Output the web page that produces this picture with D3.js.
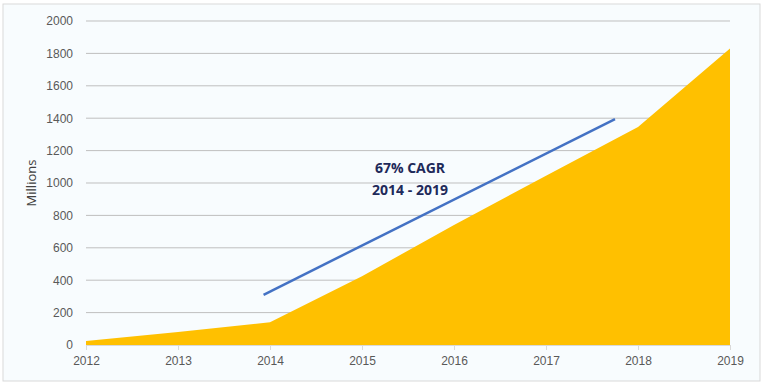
<!DOCTYPE html>
<html>
<head>
<meta charset="utf-8">
<script src="https://cdn.jsdelivr.net/npm/d3@7"></script>
<style>
  body { margin: 0; background: #fff; }
  svg { display: block; font-family: "Open Sans", sans-serif; }
</style>
</head>
<body>
<svg width="765" height="387"></svg>
<script>
// data
var years = [2012, 2013, 2014, 2015, 2016, 2017, 2018, 2019];
var millions = [25, 80, 140, 425, 740, 1045, 1345, 1830];
var yTicks = [0, 200, 400, 600, 800, 1000, 1200, 1400, 1600, 1800, 2000];
// trend line end points (year, value)
var trendYears = [2013.93, 2017.75];
var trendValues = [310, 1395];
var noteLines = ['67% CAGR', '2014 - 2019'];

var svg = d3.select('svg');
var plotLeft = 86, plotRight = 730, plotTop = 21, plotBottom = 345;

// chart frame
svg.append('rect')
    .attr('x', 3).attr('y', 4)
    .attr('width', 757).attr('height', 377)
    .attr('fill', '#f8fcfe')
    .attr('stroke', '#d9d9d9');

var x = d3.scaleLinear().domain([2012, 2019]).range([plotLeft, plotRight]);
var y = d3.scaleLinear().domain([0, 2000]).range([plotBottom, plotTop]);

// gridlines
svg.append('g')
    .selectAll('line')
    .data(yTicks.slice(1))
    .enter().append('line')
    .attr('x1', plotLeft).attr('x2', plotRight)
    .attr('y1', function (d) { return y(d); })
    .attr('y2', function (d) { return y(d); })
    .attr('stroke', '#bfbfbf');

// y axis labels
var yAxis = d3.axisLeft(y).tickValues(yTicks).tickFormat(d3.format('d')).tickSize(0).tickPadding(13);
svg.append('g')
    .attr('transform', 'translate(' + plotLeft + ',0)')
    .call(yAxis)
    .call(function (g) { g.select('.domain').remove(); })
    .selectAll('text')
    .attr('fill', '#595959')
    .style('font-size', '12px');

// area
var area = d3.area()
    .x(function (d, i) { return x(years[i]); })
    .y0(y(0))
    .y1(function (d) { return y(d); });

svg.append('path')
    .datum(millions)
    .attr('d', area)
    .attr('fill', '#ffc000');

// x axis
var xAxis = d3.axisBottom(x).tickValues(years).tickFormat(d3.format('d')).tickSize(5).tickSizeOuter(0).tickPadding(6);
svg.append('g')
    .attr('transform', 'translate(0,' + plotBottom + ')')
    .call(xAxis)
    .call(function (g) {
        g.selectAll('.domain, line').attr('stroke', '#d9d9d9');
        g.selectAll('text').attr('fill', '#595959').style('font-size', '12px');
    });

// CAGR trend line
svg.append('line')
    .attr('x1', x(trendYears[0])).attr('y1', y(trendValues[0]))
    .attr('x2', x(trendYears[1])).attr('y2', y(trendValues[1]))
    .attr('stroke', '#4472c4')
    .attr('stroke-width', 2.5);

svg.append('g')
    .selectAll('text')
    .data(noteLines)
    .enter().append('text')
    .attr('x', 410)
    .attr('y', function (d, i) { return 173 + i * 22; })
    .attr('text-anchor', 'middle')
    .attr('fill', '#1f2a5a')
    .style('font-size', '14px')
    .style('font-weight', 'bold')
    .text(function (d) { return d; });

// y axis title
svg.append('text')
    .attr('transform', 'translate(36,183)rotate(-90)')
    .attr('text-anchor', 'middle')
    .attr('fill', '#404040')
    .style('font-size', '13px')
    .text('Millions');
</script>
</body>
</html>
